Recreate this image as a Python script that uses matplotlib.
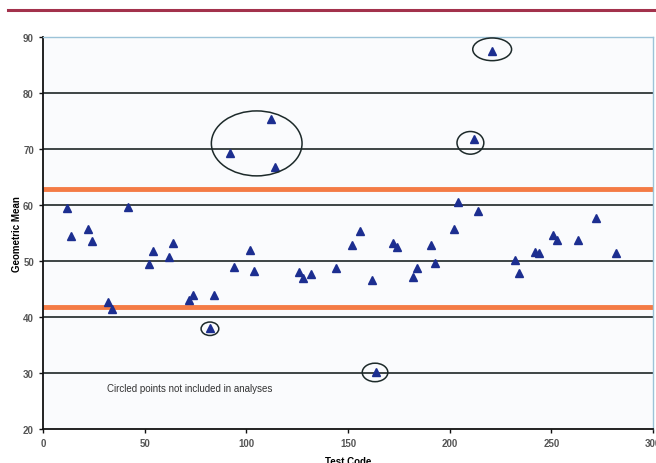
import matplotlib.pyplot as plt
from matplotlib.patches import Ellipse
from matplotlib.lines import Line2D

plt.rcParams['font.family'] = ['Liberation Sans', 'DejaVu Sans']

# 数据：测试代码与几何均值
test_code = [12, 14, 22, 24, 32, 34, 42, 52, 54, 62, 64, 72, 74, 82, 84,
             92, 94, 102, 104, 112, 114, 126, 128, 132, 144, 152, 156, 162,
             164, 172, 174, 182, 184, 191, 193, 202, 204, 212, 214, 221,
             232, 234, 242, 244, 251, 253, 263, 272, 282]
geo_mean = [59.5, 54.5, 55.7, 53.5, 42.7, 41.5, 59.6, 49.5, 51.8, 50.8,
            53.2, 43.0, 44.0, 38.0, 44.0, 69.3, 48.9, 52.0, 48.2, 75.4,
            66.8, 48.1, 47.0, 47.7, 48.8, 52.9, 55.4, 46.6, 30.1, 53.2,
            52.5, 47.2, 48.8, 52.9, 49.6, 55.7, 60.6, 71.8, 59.0, 87.5,
            50.1, 47.9, 51.6, 51.5, 54.7, 53.7, 53.8, 57.6, 51.4]

# 控制限
limits = [62.8, 41.7]

# 圈出的点（中心x, 中心y, 宽, 高）
circles = [(105.1, 71.0, 44.6, 11.6),
           (220.9, 87.8, 19.1, 4.05),
           (210.2, 71.1, 13.2, 4.05),
           (82.1, 37.9, 8.7, 2.4),
           (163.3, 30.1, 12.6, 3.3)]

note = 'Circled points not included in analyses'

fig = plt.figure(figsize=(6.56, 4.64), dpi=100)
ax = fig.add_axes([43 / 656, 34 / 464, 610 / 656, 392 / 464])
ax.set_facecolor('#fafbfd')

# 顶部深红色线
fig.add_artist(Line2D([8 / 656, 1], [1 - 10.5 / 464, 1 - 10.5 / 464],
                      transform=fig.transFigure, color='#a3324c', lw=2.2))

ax.set_xlim(0, 300)
ax.set_ylim(20, 90)
ax.set_xticks(range(0, 301, 50))
ax.set_yticks(range(20, 91, 10))

for y in range(30, 90, 10):
    ax.axhline(y, color='#1d2626', lw=1.2, zorder=1)

for y in limits:
    ax.axhline(y, color='#f47b45', lw=3.5, zorder=2)

ax.plot(test_code, geo_mean, linestyle='none', marker='^', markersize=5.5,
        color='#1c2e90', zorder=4)

for cx, cy, w, h in circles:
    ax.add_patch(Ellipse((cx, cy), w, h, fill=False, edgecolor='#1d2a2a',
                         lw=1.1, zorder=5))

ax.text(72, 27.3, note, ha='center', va='center', fontsize=7, color='#333333')

for side in ['top', 'right']:
    ax.spines[side].set_color('#9cc3d8')
    ax.spines[side].set_linewidth(1.0)
for side in ['left', 'bottom']:
    ax.spines[side].set_color('#111111')
    ax.spines[side].set_linewidth(1.3)

ax.tick_params(axis='both', labelsize=7, labelcolor='#555555', color='#111111',
               length=3, width=1)
for lab in ax.get_xticklabels() + ax.get_yticklabels():
    lab.set_fontweight('bold')

ax.set_xlabel('Test Code', fontsize=7, fontweight='bold', labelpad=6)
ax.set_ylabel('Geometric Mean', fontsize=7, fontweight='bold', labelpad=1)

fig.savefig('out.png', dpi=100)
